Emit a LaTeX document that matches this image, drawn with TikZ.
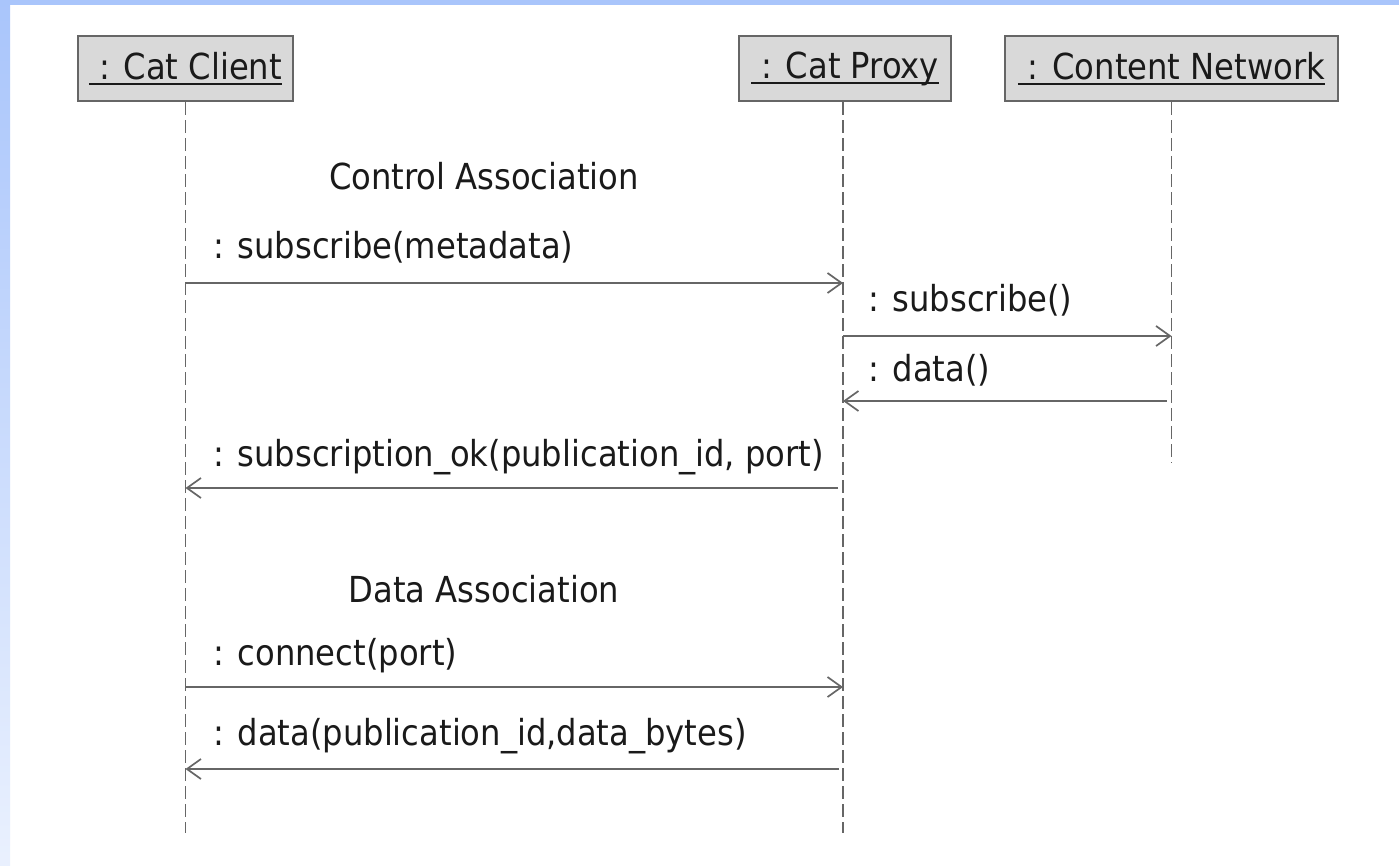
\documentclass[tikz,border=0pt]{standalone}
\usepackage{fontspec}
\setmainfont{DejaVu Sans Condensed}
\usepackage{xcolor}
\usepackage{tikz}
\usetikzlibrary{arrows.meta,positioning}

\definecolor{linegray}{HTML}{666666}
\definecolor{boxfill}{HTML}{D9D9D9}
\definecolor{frameblue}{HTML}{A9C5FB}
\definecolor{textdark}{HTML}{1A1A1A}

% underlined object name with a leading space
\newcommand{\objname}[1]{\setbox0\hbox{\ #1}\rlap{\rule[-6pt]{\wd0}{2pt}}\box0}

\begin{document}
\begin{tikzpicture}[
    x=1pt, y=-1pt,
    font=\fontsize{35.8}{42}\selectfont, text=textdark,
    obj/.style={draw=linegray, line width=2pt, fill=boxfill, rectangle, minimum height=65pt, inner xsep=10pt},
    life/.style={draw=linegray, line width=1.7pt, dash pattern=on 13pt off 5pt},
    msg/.style={draw=linegray, line width=1.7pt, -{Straight Barb[length=14pt, width=20pt, line width=1.7pt]}},
    lbl/.style={anchor=base west, inner sep=0pt},
    title/.style={anchor=base, inner sep=0pt}
]
    \useasboundingbox (0,0) rectangle (1399,865);
    % window frame
    \fill[white] (0,0) rectangle (1399,865);
    \shade[top color=frameblue, bottom color=frameblue!25] (0,0) rectangle (10,865);
    \fill[frameblue] (0,0) rectangle (1399,5);

    % objects
    \node[obj, minimum width=215pt] (client) at (185.5,68.5) {\objname{: Cat Client}};
    \node[obj, minimum width=212pt] (proxy) at (845,68.5) {\objname{: Cat Proxy}};
    \node[obj, minimum width=333pt] (network) at (1171.5,68.5) {\objname{: Content Network}};

    % lifelines
    \coordinate (clientend) at (client.south |- 0,833);
    \coordinate (proxyend) at (843,833);
    \coordinate (networkend) at (network.south |- 0,463);
    \draw[life] (client.south) -- (clientend);
    \draw[life] (proxy.south -| proxyend) -- (proxyend);
    \draw[life] (network.south) -- (networkend);

    % control association
    \node[title] (control) at (484,189) {Control Association};
    \coordinate (c1) at (clientend |- 0,283);
    \coordinate (p1) at (proxyend |- 0,283);
    \coordinate (p2) at (proxyend |- 0,336);
    \coordinate (n2) at (networkend |- 0,336);
    \coordinate (n3) at (networkend |- 0,401);
    \coordinate (p3) at (proxyend |- 0,401);
    \coordinate (p4) at (proxyend |- 0,488);
    \coordinate (c4) at (clientend |- 0,488);

    \node[lbl] (subscribemeta) at (213,258) {: subscribe(metadata)};
    \draw[msg] (c1) -- (p1);
    \node[lbl] (subscribe) at (868,311) {: subscribe()};
    \draw[msg] (p2) -- (n2);
    \node[lbl] (data) at (868,381) {: data()};
    \draw[msg] ([xshift=-5pt]n3) -- (p3);
    \node[lbl] (subscriptionok) at (213,466) {: subscription\_ok(publication\_id, port)};
    \draw[msg] ([xshift=-5pt]p4) -- (c4);

    % data association
    \node[title] (dataassoc) at (484,602) {Data Association};
    \coordinate (c5) at (clientend |- 0,687);
    \coordinate (p5) at (proxyend |- 0,687);
    \coordinate (p6) at (proxyend |- 0,769);
    \coordinate (c6) at (clientend |- 0,769);

    \node[lbl] (connect) at (213,665) {: connect(port)};
    \draw[msg] (c5) -- (p5);
    \node[lbl] (databytes) at (213,745) {: data(publication\_id,data\_bytes)};
    \draw[msg] ([xshift=-4pt]p6) -- (c6);
\end{tikzpicture}
\end{document}
